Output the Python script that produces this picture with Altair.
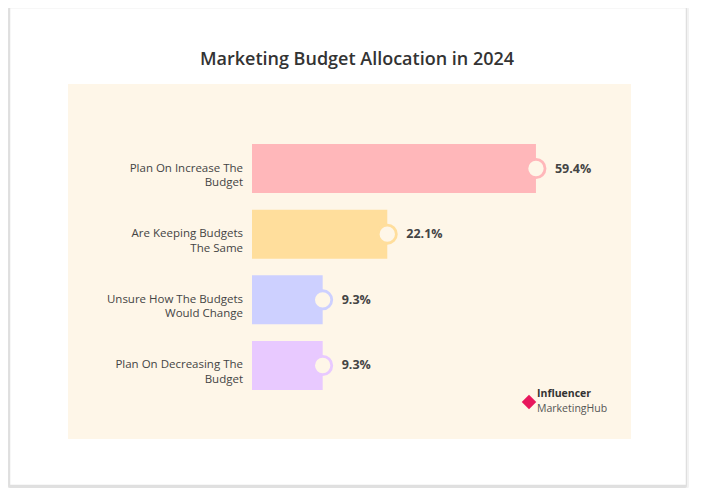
import altair as alt
import pandas as pd

# ---- data ----
categories = [
    "Plan On Increase The Budget",
    "Are Keeping Budgets The Same",
    "Unsure How The Budgets Would Change",
    "Plan On Decreasing The Budget",
]
label_text = [
    "Plan On Increase The\nBudget",
    "Are Keeping Budgets\nThe Same",
    "Unsure How The Budgets\nWould Change",
    "Plan On Decreasing The\nBudget",
]
values = [59.4, 22.1, 9.3, 9.3]
bar_colors = ["#FFB7BA", "#FFDE9C", "#CDD0FF", "#E8C9FF"]
title_text = "Marketing Budget Allocation in 2024"
logo_lines = ["Influencer", "MarketingHub"]

FONT = "Open Sans"
CREAM = "#FEF6E8"

df = pd.DataFrame({
    "category": categories,
    "label": label_text,
    "value": values,
    "pct": [f"{v:.1f}%" for v in values],
})
one = pd.DataFrame({"k": [1]})

x_enc = alt.X("value:Q", scale=alt.Scale(type="pow", exponent=0.75, domain=[0, 80]), axis=None)
y_enc = alt.Y(
    "category:N",
    sort=categories,
    scale=alt.Scale(paddingInner=0.254, paddingOuter=0.32),
    axis=alt.Axis(labels=False, ticks=False, title=None, grid=False,
                  domainColor="#333333", domainWidth=1.5),
)
color_scale = alt.Scale(domain=categories, range=bar_colors)

# ---- decorations ----
shadow = alt.Chart(one).mark_rect(fill="#000000", opacity=0.05, cornerRadius=4).encode(
    x=alt.value(-246), x2=alt.value(437), y=alt.value(-118), y2=alt.value(367))
shadow2 = alt.Chart(one).mark_rect(fill="#000000", opacity=0.07, cornerRadius=2).encode(
    x=alt.value(-244), x2=alt.value(435), y=alt.value(-116), y2=alt.value(365))
card = alt.Chart(one).mark_rect(fill="white", stroke="#dddddd", strokeWidth=0.5).encode(
    x=alt.value(-242), x2=alt.value(434), y=alt.value(-115), y2=alt.value(362))
panel = alt.Chart(one).mark_rect(fill=CREAM).encode(
    x=alt.value(-184), x2=alt.value(379), y=alt.value(-39), y2=alt.value(316))
title = alt.Chart(pd.DataFrame({"t": [title_text]})).mark_text(
    font=FONT, fontSize=18, fontWeight=600, color="#333333", align="center", baseline="middle"
).encode(x=alt.value(105), y=alt.value(-63), text="t:N")

# ---- data marks ----
base = alt.Chart(df)
bars = base.mark_bar().encode(
    x=x_enc, y=y_enc,
    color=alt.Color("category:N", scale=color_scale, legend=None),
)
circles = base.mark_point(shape="circle", filled=True, fill=CREAM, size=330,
                          strokeWidth=2.8, opacity=1).encode(
    x="value:Q", y=alt.Y("category:N", sort=categories),
    stroke=alt.Stroke("category:N", scale=color_scale, legend=None),
)
pct_text = base.mark_text(align="left", baseline="middle", dx=19, font=FONT,
                          fontSize=12.5, fontWeight="bold", color="#444444").encode(
    x="value:Q", y=alt.Y("category:N", sort=categories), text="pct:N")
cat_text = base.mark_text(align="right", baseline="middle", lineBreak="\n", font=FONT,
                          fontSize=11.5, lineHeight=14.5, color="#444444").encode(
    x=alt.value(-9), y=alt.Y("category:N", sort=categories), text="label:N")

# ---- logo ----
logo_mark = alt.Chart(one).mark_point(shape="diamond", filled=True, color="#E8175D",
                                      size=210, opacity=1).encode(
    x=alt.value(277), y=alt.value(279))
logo_t1 = alt.Chart(pd.DataFrame({"t": [logo_lines[0]]})).mark_text(
    font=FONT, fontSize=10.5, fontWeight="bold", color="#333333", align="left", baseline="middle"
).encode(x=alt.value(285), y=alt.value(271), text="t:N")
logo_t2 = alt.Chart(pd.DataFrame({"t": [logo_lines[1]]})).mark_text(
    font=FONT, fontSize=10.5, color="#555555", align="left", baseline="middle"
).encode(x=alt.value(285), y=alt.value(285.5), text="t:N")

chart = alt.layer(
    shadow, shadow2, card, panel, title, bars, circles, pct_text, cat_text,
    logo_mark, logo_t1, logo_t2,
).resolve_scale(color="shared").properties(
    width=355, height=288,
    autosize=alt.AutoSizeParams(type="none"),
    padding={"left": 244, "top": 115, "right": 86, "bottom": 77},
    background="white",
).configure_view(stroke=None)

chart.save("out.html", embed_options={"renderer": "svg", "actions": False})
